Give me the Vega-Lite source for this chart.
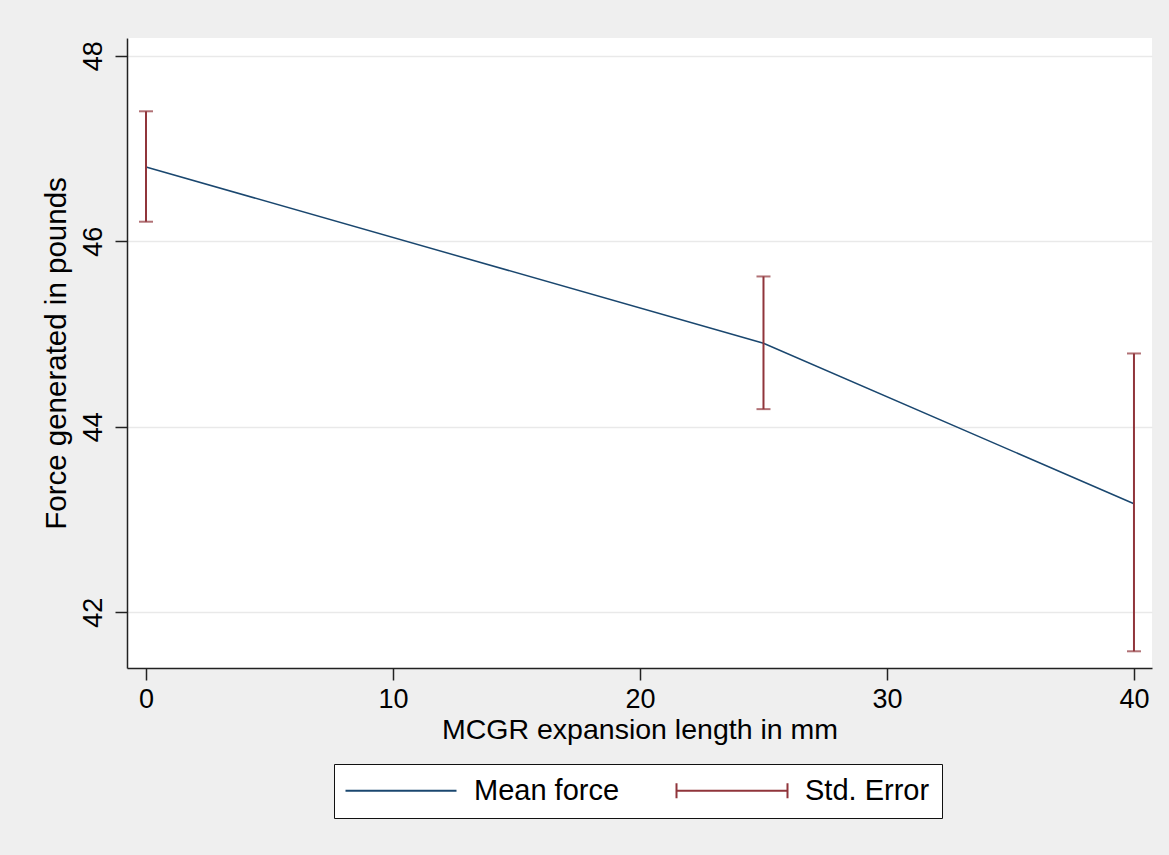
{
  "$schema": "https://vega.github.io/schema/vega-lite/v6.json",
  "width": 1025,
  "height": 630,
  "autosize": {"type": "none"},
  "padding": {"left": 127, "top": 38, "right": 17, "bottom": 187},
  "background": "#efefef",
  "config": {
    "view": {"fill": "white", "stroke": null},
    "font": "Liberation Sans",
    "axis": {
      "labelFont": "Liberation Sans",
      "titleFont": "Liberation Sans",
      "labelFontSize": 27,
      "titleFontSize": 28.5,
      "titleFontWeight": "normal",
      "labelColor": "#000000",
      "titleColor": "#000000",
      "domainColor": "#222222",
      "domainWidth": 1.5,
      "tickColor": "#222222",
      "tickWidth": 1.5,
      "tickSize": 12,
      "gridColor": "#e9e9e9",
      "gridWidth": 1.5
    }
  },
  "data": {
    "values": [
      {"length": 0, "mean": 46.8, "lo": 46.21, "hi": 47.4},
      {"length": 25, "mean": 44.9, "lo": 44.19, "hi": 45.62},
      {"length": 40, "mean": 43.17, "lo": 41.58, "hi": 44.79}
    ]
  },
  "layer": [
    {
      "mark": {"type": "line", "strokeWidth": 1.5},
      "encoding": {
        "x": {
          "field": "length",
          "type": "quantitative",
          "scale": {"domain": [-0.77, 40.73], "nice": false, "zero": false},
          "axis": {
            "values": [0, 10, 20, 30, 40],
            "format": "d",
            "grid": false,
            "title": "MCGR expansion length in mm",
            "labelPadding": 6,
            "titlePadding": 3
          }
        },
        "y": {
          "field": "mean",
          "type": "quantitative",
          "title": "Force generated in pounds",
          "scale": {"domain": [41.4, 48.19], "nice": false, "zero": false},
          "axis": {
            "values": [42, 44, 46, 48],
            "format": "d",
            "grid": true,
            "labelAngle": -90,
            "labelAlign": "center",
            "labelBaseline": "bottom",
            "labelPadding": 8,
            "titleFontSize": 29.5,
            "titlePadding": 8
          }
        },
        "color": {
          "datum": "Mean force",
          "type": "nominal",
          "scale": {"domain": ["Mean force", "Std. Error"], "range": ["#1a476f", "#90353b"]},
          "legend": {
            "title": null,
            "orient": "none",
            "legendX": 207,
            "legendY": 726,
            "direction": "horizontal",
            "columns": 2,
            "strokeColor": "#111111",
            "fillColor": "white",
            "padding": 12,
            "labelFont": "Liberation Sans",
            "labelFontSize": 29,
            "labelColor": "#000000",
            "labelOffset": 99,
            "columnPadding": 52,
            "symbolSize": 400,
            "symbolStrokeWidth": 2,
            "encode": {
              "symbols": {
                "update": {
                  "shape": {"signal": "datum.value == 'Mean force' ? 'M-1.5,0L9.6,0' : 'M-1.5,-0.75L-1.5,0.75M-1.5,0L9.6,0M9.6,-0.75L9.6,0.75'"}
                }
              }
            }
          }
        }
      }
    },
    {
      "mark": {"type": "errorbar", "ticks": {"size": 14, "thickness": 2}, "rule": {"strokeWidth": 2}},
      "encoding": {
        "x": {"field": "length", "type": "quantitative"},
        "y": {"field": "lo", "type": "quantitative", "title": "Force generated in pounds"},
        "y2": {"field": "hi"},
        "color": {"datum": "Std. Error", "type": "nominal"}
      }
    }
  ]
}
